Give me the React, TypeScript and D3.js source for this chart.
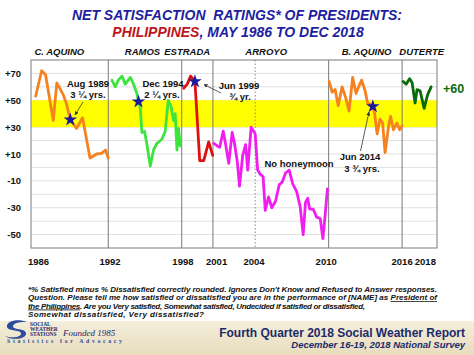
import React from "react";
import * as d3 from "d3";

type Pt = [number, number];

const cAquino: Pt[] = [[1986.57,53],[1987.06,72],[1987.38,69],[1988.01,35],[1988.30,63],[1988.83,54],[1989.07,48],[1989.40,35.5],[1989.91,29],[1990.40,37],[1991.01,7],[1991.55,10],[1991.95,10.5],[1992.28,13],[1992.5,7]];
const ramos: Pt[] = [[1992.80,65],[1993.07,60],[1993.32,65],[1993.62,68],[1993.89,62],[1994.30,67],[1994.57,62],[1994.84,55],[1994.97,49],[1995.11,45],[1995.25,26],[1995.46,27],[1995.66,17],[1995.93,1],[1996.20,13],[1996.48,18],[1996.88,21],[1997.15,27],[1997.40,50],[1997.64,45],[1997.83,35],[1997.97,40],[1998.11,13],[1998.24,29],[1998.38,16]];
const estrada: Pt[] = [[1998.66,59],[1998.95,62],[1999.23,68],[1999.58,64],[1999.97,5],[2000.30,5],[2000.70,19],[2001.03,9]];
const arroyo: Pt[] = [[2001.11,18],[2001.40,16],[2001.60,15],[2001.89,27],[2002.09,17],[2002.34,3],[2002.62,26],[2002.79,19],[2003.03,5],[2003.22,-14],[2003.48,9],[2003.72,17],[2003.89,-2],[2004.17,30],[2004.50,25],[2004.70,-2],[2004.91,-5],[2005.15,-7],[2005.32,-32],[2005.59,-22],[2005.86,-30],[2006.17,-25],[2006.46,-13],[2006.70,-11],[2006.99,-4],[2007.28,-2],[2007.56,-12],[2007.89,-18],[2008.17,-29],[2008.42,-50],[2008.61,-26],[2008.79,-23],[2008.95,-31],[2009.23,-31],[2009.52,-37],[2009.81,-38],[2010.03,-53],[2010.24,-33],[2010.40,-16]];
const bAquino: Pt[] = [[2010.54,64],[2010.79,56],[2011.03,58],[2011.28,46],[2011.60,60],[2011.89,52],[2012.17,42],[2012.46,67],[2012.74,55],[2012.95,60],[2013.19,65],[2013.48,57],[2013.68,48],[2013.89,47],[2014.11,45],[2014.26,40],[2014.46,25],[2014.70,36],[2014.91,33],[2015.11,11],[2015.38,30],[2015.56,38],[2015.79,28],[2016.07,33],[2016.30,28],[2016.50,31]];
const duterte: Pt[] = [[2016.58,64],[2016.83,62],[2017.11,66],[2017.32,63],[2017.56,48],[2017.72,58],[2017.97,57],[2018.30,44],[2018.58,54],[2018.87,60]];

const series = [
  { name: "C. AQUINO", data: cAquino, color: "#F5821F" },
  { name: "RAMOS", data: ramos, color: "#3DE43D" },
  { name: "ESTRADA", data: estrada, color: "#E01010" },
  { name: "ARROYO", data: arroyo, color: "#F01EF0" },
  { name: "B. AQUINO", data: bAquino, color: "#F5821F" },
  { name: "DUTERTE", data: duterte, color: "#0A6A0A" },
];

const stars: Pt[] = [[1989.40,35.5],[1994.97,49],[1999.58,64],[2014.11,45.4]];
const termLines = [1992.5, 1998.5, 2001.05, 2010.5, 2016.5];
const dottedLines = [2004.5];
const yTicks = [70, 50, 30, 10, -10, -30, -50];
const gridVals = [-50, -40, -30, -20, -10, 0, 10, 20, 30, 40, 50, 60, 70];
const band: [number, number] = [30, 50];
const xLabels = ["1986", "1992", "1998", "2001", "2004", "2010", "2016", "2018"];
const xLabelPos = [1986.8, 1992.65, 1998.6, 2001.35, 2004.4, 2010.3, 2016.5, 2018.4];
const presLabels = ["C. AQUINO", "RAMOS", "ESTRADA", "ARROYO", "B. AQUINO", "DUTERTE"];
const presLabelPos = [1988.5, 1995.3, 1998.95, 2005.4, 2013.6, 2018.1];
const latestValue = "+60";

const xDomain: [number, number] = [1986.19, 2019.35];
const yDomain: [number, number] = [-60, 80];

const F = "Arial, 'Liberation Sans', Helvetica, sans-serif";
const SERIF = "'Liberation Serif', 'DejaVu Serif', serif";

export default function App() {
  const L = 31, R = 437, T = 60, B = 248;
  const x = d3.scaleLinear().domain(xDomain).range([L, R]);
  const y = d3.scaleLinear().domain(yDomain).range([B, T]);
  const line = d3.line<Pt>().x(d => x(d[0])).y(d => y(d[1]));
  const starPath = d3.symbol().type(d3.symbolStar).size(58)() as string;
  const blue = "#1E1EA0";

  return (
    <svg width={474} height={355} style={{ position: "absolute", left: 0, top: 0, background: "#fff" }} xmlns="http://www.w3.org/2000/svg">
      <defs>
        <linearGradient id="foot" x1="0" y1="0" x2="0" y2="1">
          <stop offset="0" stopColor="#F4EEDB" />
          <stop offset="1" stopColor="#E8DCBD" />
        </linearGradient>
        <marker id="ah" viewBox="0 0 10 10" refX="9" refY="5" markerWidth="5" markerHeight="5" orient="auto">
          <path d="M0,0 L10,5 L0,10 z" fill="#333" />
        </marker>
      </defs>
      <rect x={0} y={0} width={474} height={355} fill="#fff" />

      {/* Title */}
      <text x={237} y={20} textAnchor="middle" fontFamily={F} fontWeight="bold" fontStyle="italic" fontSize={14} fill={blue} style={{ whiteSpace: "pre" }}>
        NET SATISFACTION  RATINGS* OF PRESIDENTS:
      </text>
      <text x={238} y={36.5} textAnchor="middle" fontFamily={F} fontWeight="bold" fontStyle="italic" fontSize={14} fill={blue}>
        <tspan fill="#C0141C">PHILIPPINES</tspan>, MAY 1986 TO DEC 2018
      </text>

      {/* President labels */}
      {presLabels.map((p, i) => (
        <text key={p} x={x(presLabelPos[i])} y={55} textAnchor="middle" fontFamily={F} fontWeight="bold" fontStyle="italic" fontSize={9.5} fill="#111">{p}</text>
      ))}

      {/* grid */}
      {gridVals.map(g => (
        <line key={g} x1={L} x2={R} y1={y(g)} y2={y(g)} stroke="#D8D8D8" strokeWidth={0.8} />
      ))}
      <rect x={L} y={y(band[1])} width={R - L} height={y(band[0]) - y(band[1])} fill="#FFFF00" />

      {termLines.map(t => (
        <line key={t} x1={x(t)} x2={x(t)} y1={T} y2={B} stroke="#7A7A7A" strokeWidth={1} />
      ))}
      {dottedLines.map(t => (
        <line key={t} x1={x(t)} x2={x(t)} y1={T} y2={B} stroke="#8A8A8A" strokeWidth={1} strokeDasharray="1.5,2" />
      ))}
      <rect x={L} y={T} width={R - L} height={B - T} fill="none" stroke="#7A7A7A" strokeWidth={1} />

      {/* Y ticks */}
      {yTicks.map(v => (
        <text key={v} x={21} y={y(v) + 3.5} textAnchor="end" fontFamily={F} fontWeight="bold" fontSize={9.5} fill="#111">{v > 0 ? `+${v}` : `${v}`}</text>
      ))}
      {/* X labels */}
      {xLabels.map((lab, i) => (
        <text key={lab} x={x(xLabelPos[i])} y={264.5} textAnchor="middle" fontFamily={F} fontWeight="bold" fontSize={9.5} fill="#111">{lab}</text>
      ))}

      {/* series */}
      {series.map(s => (
        <path key={s.name} d={line(s.data) as string} fill="none" stroke={s.color} strokeWidth={2.8} strokeLinejoin="round" strokeLinecap="round" />
      ))}

      {/* stars */}
      {stars.map((s, i) => (
        <path key={i} d={starPath} transform={`translate(${x(s[0])},${y(s[1])})`} fill="#1A1A9A" />
      ))}

      {/* annotations */}
      <g fontFamily={F} fontWeight="bold" fontSize={9.5} fill="#111" textAnchor="middle">
        <text x={88} y={87}>Aug 1989</text>
        <text x={88} y={98}>3 ¼ yrs.</text>
        <text x={163} y={87}>Dec 1994</text>
        <text x={162} y={98}>2 ¼ yrs.</text>
        <text x={239} y={89}>Jun 1999</text>
        <text x={240} y={100}>¾ yr.</text>
        <text x={299} y={166.5}>No honeymoon</text>
        <text x={360} y={160}>Jun 2014</text>
        <text x={362} y={171.5}>3 ¾ yrs.</text>
      </g>
      <line x1={83} y1={102} x2={75} y2={115} stroke="#333" strokeWidth={0.8} markerEnd="url(#ah)" />
      <line x1={221} y1={93} x2={204} y2={84.5} stroke="#333" strokeWidth={0.8} markerEnd="url(#ah)" />
      <line x1={360.5} y1={151} x2={369} y2={112} stroke="#333" strokeWidth={0.8} markerEnd="url(#ah)" />

      <text x={443} y={92.5} fontFamily={F} fontWeight="bold" fontSize={12.5} fill="#0A6A0A">{latestValue}</text>

      {/* footnote */}
      <g fontFamily={F} fontWeight="bold" fontStyle="italic" fontSize={8} fill="#111">
        <text x={28} y={292} textLength={409} lengthAdjust="spacing">*% Satisfied minus % Dissatisfied correctly rounded. Ignores Don't Know and Refused to Answer responses.</text>
        <text x={28} y={300} textLength={409} lengthAdjust="spacing">Question. Please tell me how satisfied or dissatisfied you are in the performance of [NAME] as <tspan style={{ textDecoration: "underline" }}>President of</tspan></text>
        <text x={28} y={308.5} textLength={337} lengthAdjust="spacing"><tspan style={{ textDecoration: "underline" }}>the Philippines</tspan>.  Are you Very satisfied, Somewhat satisfied, Undecided if satisfied or dissatisfied,</text>
        <text x={28} y={316.5} textLength={176} lengthAdjust="spacing">Somewhat dissatisfied, Very dissatisfied?</text>
      </g>

      {/* footer */}
      <rect x={0} y={321} width={474} height={34} fill="url(#foot)" />
      <path d="M27,322 C18,318 6,321 7,327 C8,332 22,329 21,334 C20,338 10,338 5,336 C12,341 27,339 26,333 C25,328 12,330 13,326 C14,322 22,322 27,322 Z" fill="#2B4C9B" />
      <g fontFamily={SERIF} fontWeight="bold" fill="#1B2A6B" fontSize={5.4}>
        <text x={30} y={326}>SOCIAL</text>
        <text x={30} y={331.2}>WEATHER</text>
        <text x={30} y={336.4}>STATIONS</text>
      </g>
      <text x={63} y={336} fontFamily={SERIF} fontStyle="italic" fontSize={9} fill="#1B2A6B">Founded 1985</text>
      <text x={7} y={343} fontFamily={SERIF} fontWeight="bold" fontSize={5.8} fill="#2B4C9B" textLength={115} lengthAdjust="spacing">Statistics for Advocacy</text>
      <text x={465} y={336.5} textAnchor="end" fontFamily={F} fontWeight="bold" fontSize={12} fill="#1B2A6B">Fourth Quarter 2018 Social Weather Report</text>
      <text x={465} y={348} textAnchor="end" fontFamily={F} fontWeight="bold" fontStyle="italic" fontSize={9.5} fill="#1B2A6B">December 16-19, 2018 National Survey</text>
    </svg>
  );
}
